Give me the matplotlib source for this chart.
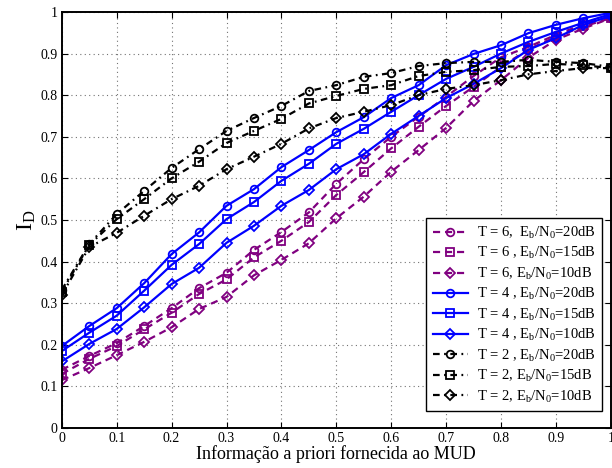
import numpy as np
import matplotlib
matplotlib.use("Agg")
import matplotlib.pyplot as plt
from matplotlib.ticker import FixedLocator

plt.rcParams["font.family"] = ["Liberation Serif", "DejaVu Serif"]
plt.rcParams["mathtext.fontset"] = "custom"
plt.rcParams["mathtext.rm"] = "Liberation Serif"
plt.rcParams["mathtext.it"] = "Liberation Serif:italic"

# --- dados ---
x = [0, 0.05, 0.1, 0.15, 0.2, 0.25, 0.3, 0.35, 0.4, 0.45, 0.5,
     0.55, 0.6, 0.65, 0.7, 0.75, 0.8, 0.85, 0.9, 0.95, 1.0]

t6_20 = [0.14, 0.173, 0.204, 0.245, 0.288, 0.336, 0.373, 0.428, 0.471, 0.518, 0.587,
         0.646, 0.70, 0.748, 0.796, 0.846, 0.891, 0.916, 0.945, 0.97, 0.99]
t6_15 = [0.13, 0.166, 0.197, 0.237, 0.277, 0.322, 0.357, 0.41, 0.45, 0.495, 0.56,
         0.615, 0.672, 0.724, 0.774, 0.82, 0.868, 0.91, 0.94, 0.965, 0.985]
t6_10 = [0.115, 0.144, 0.175, 0.207, 0.242, 0.286, 0.315, 0.367, 0.404, 0.444, 0.504,
         0.556, 0.616, 0.668, 0.721, 0.786, 0.836, 0.89, 0.933, 0.96, 0.985]

t4_20 = [0.197, 0.245, 0.288, 0.348, 0.418, 0.47, 0.534, 0.574, 0.627, 0.668, 0.711,
         0.747, 0.793, 0.824, 0.872, 0.899, 0.92, 0.949, 0.969, 0.985, 0.998]
t4_15 = [0.185, 0.229, 0.27, 0.33, 0.392, 0.442, 0.502, 0.543, 0.594, 0.635, 0.683,
         0.719, 0.76, 0.80, 0.839, 0.868, 0.90, 0.928, 0.952, 0.974, 0.995]
t4_10 = [0.16, 0.202, 0.238, 0.29, 0.346, 0.385, 0.445, 0.486, 0.534, 0.572, 0.622,
         0.658, 0.707, 0.75, 0.793, 0.827, 0.865, 0.909, 0.937, 0.969, 0.99]

t2_20 = [0.332, 0.442, 0.514, 0.57, 0.625, 0.67, 0.714, 0.745, 0.774, 0.81, 0.824,
         0.844, 0.853, 0.87, 0.877, 0.88, 0.88, 0.885, 0.88, 0.877, 0.868]
t2_15 = [0.328, 0.44, 0.502, 0.55, 0.60, 0.64, 0.685, 0.714, 0.743, 0.78, 0.798,
         0.815, 0.824, 0.846, 0.856, 0.86, 0.868, 0.87, 0.875, 0.872, 0.865]
t2_10 = [0.32, 0.435, 0.469, 0.51, 0.55, 0.582, 0.622, 0.652, 0.683, 0.72, 0.745,
         0.76, 0.776, 0.80, 0.815, 0.824, 0.836, 0.85, 0.858, 0.865, 0.865]

roxo = (0.5, 0.0, 0.5)
azul = (0.0, 0.0, 1.0)
preto = (0.0, 0.0, 0.0)

tracejado = (0, (3.2, 2.2))
traco_ponto = (0, (3.0, 2.0, 0.8, 2.0))

series = [
    (t6_20, roxo, tracejado, "o", r"T = 6,  E$_\mathrm{b}$/N$_\mathrm{0}$=20dB"),
    (t6_15, roxo, tracejado, "s", r"T = 6 , E$_\mathrm{b}$/N$_\mathrm{0}$=15dB"),
    (t6_10, roxo, tracejado, "D", r"T = 6, E$_\mathrm{b}$/N$_\mathrm{0}$=10dB"),
    (t4_20, azul, "-", "o", r"T = 4 , E$_\mathrm{b}$/N$_\mathrm{0}$=20dB"),
    (t4_15, azul, "-", "s", r"T = 4 , E$_\mathrm{b}$/N$_\mathrm{0}$=15dB"),
    (t4_10, azul, "-", "D", r"T = 4 , E$_\mathrm{b}$/N$_\mathrm{0}$=10dB"),
    (t2_20, preto, traco_ponto, "o", r"T = 2 , E$_\mathrm{b}$/N$_\mathrm{0}$=20dB"),
    (t2_15, preto, traco_ponto, "s", r"T = 2, E$_\mathrm{b}$/N$_\mathrm{0}$=15dB"),
    (t2_10, preto, traco_ponto, "D", r"T = 2, E$_\mathrm{b}$/N$_\mathrm{0}$=10dB"),
]

fig = plt.figure(figsize=(6.12, 4.68), dpi=100)
ax = fig.add_axes([0.101, 0.0855, 0.897, 0.889])

for ys, cor, estilo, marc, rotulo in series:
    ax.plot(x, ys, color=cor, linestyle=estilo, linewidth=1.6, marker=marc,
            markersize=4.6 if marc == "D" else 5.5, markerfacecolor="none",
            markeredgecolor=cor, markeredgewidth=1.3, label=rotulo)

ax.set_xlim(0, 1)
ax.set_ylim(0, 1)
ax.xaxis.set_major_locator(FixedLocator(np.arange(0, 1.01, 0.1)))
ax.yaxis.set_major_locator(FixedLocator(np.arange(0, 1.01, 0.1)))
ax.set_xticklabels(["0", "0.1", "0.2", "0.3", "0.4", "0.5", "0.6", "0.7", "0.8", "0.9", "1"])
ax.set_yticklabels(["0", "0.1", "0.2", "0.3", "0.4", "0.5", "0.6", "0.7", "0.8", "0.9", "1"])
ax.tick_params(direction="in", top=True, right=True, labelsize=10, pad=3, length=4)
ax.grid(True, linestyle=(0, (1, 3)), color="0.45", linewidth=0.8)
for s in ax.spines.values():
    s.set_linewidth(1.4)

ax.set_xlabel("Informação a priori fornecida ao MUD", fontsize=13, labelpad=0)
ax.set_ylabel(r"I$_\mathrm{D}$", fontsize=17, labelpad=2)

leg = ax.legend(loc="lower right", bbox_to_anchor=(0.992, 0.03), fontsize=10.5,
                frameon=True, fancybox=False, edgecolor="black", framealpha=1,
                handlelength=2.4, handletextpad=0.6, labelspacing=0.3,
                borderpad=0.45, borderaxespad=0.3)
leg.get_frame().set_linewidth(1.0)

plt.savefig("out.png", dpi=100)
plt.close()
